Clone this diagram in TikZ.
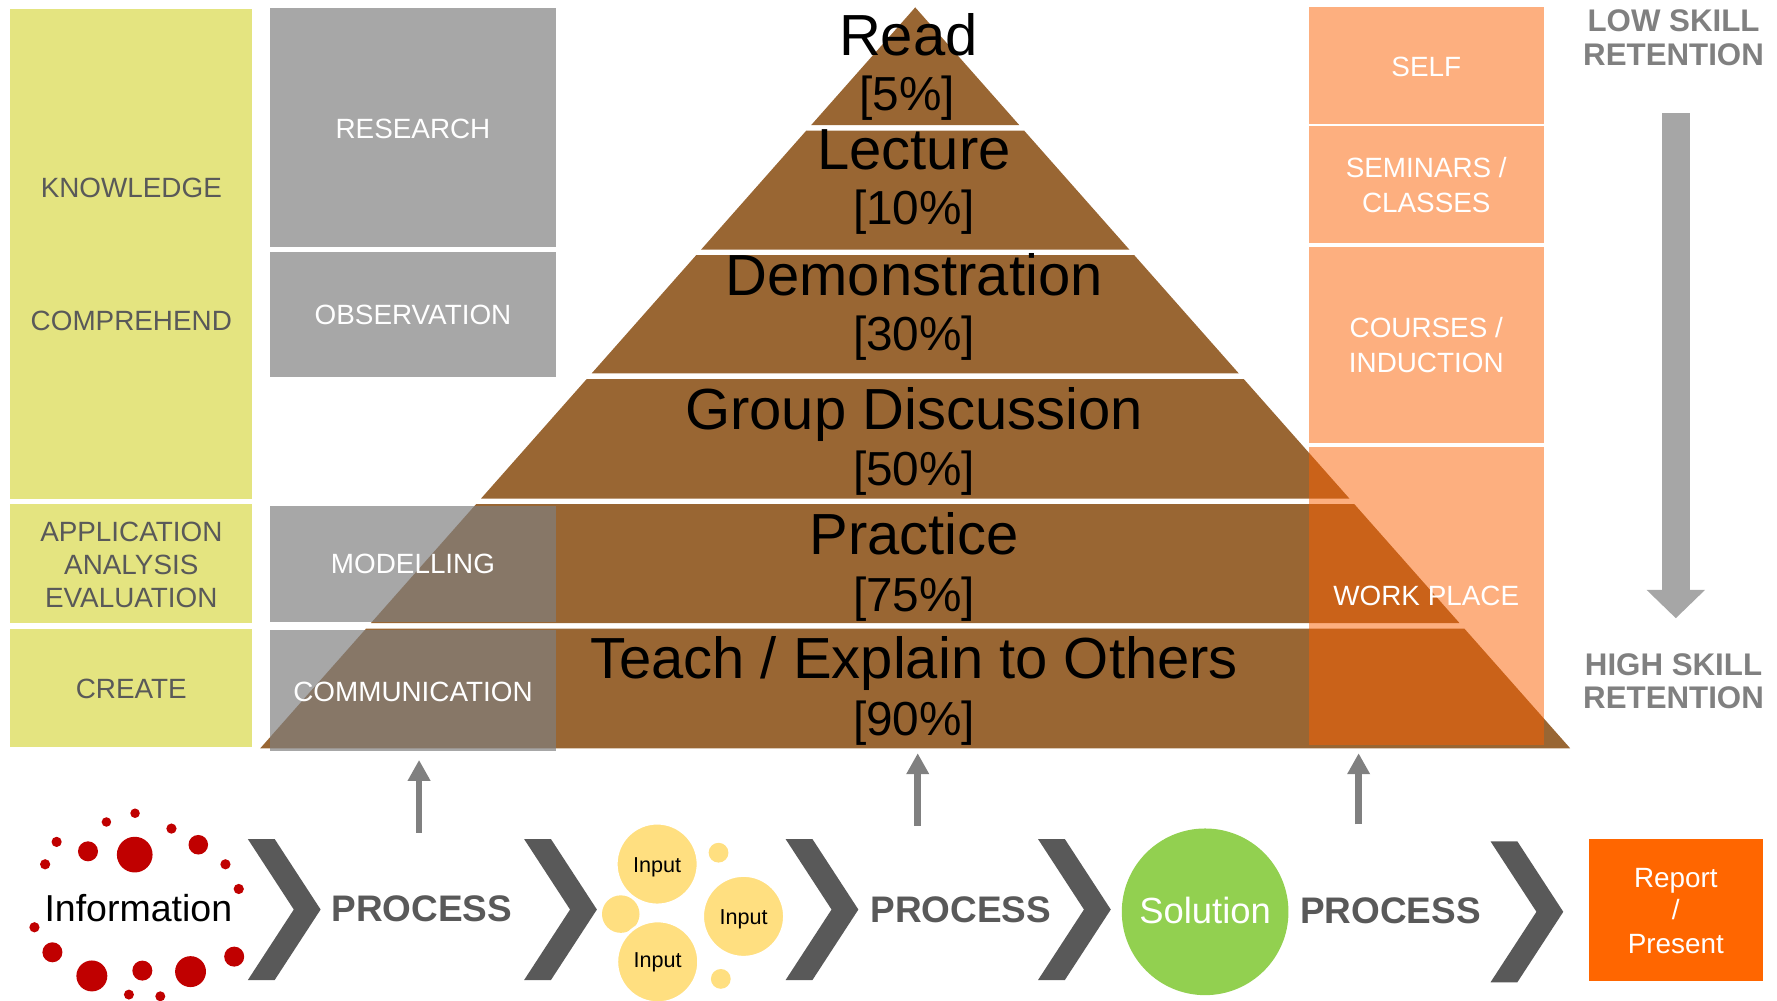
\documentclass[tikz,border=0pt]{standalone}
\usepackage{fontspec}
\setmainfont{Liberation Sans}
\usetikzlibrary{arrows.meta}
\newcommand\myfs[1]{\fontsize{#1}{#1}\selectfont}
\definecolor{ylw}{RGB}{228,228,128}
\definecolor{dgray}{RGB}{89,89,89}
\definecolor{pyrbrown}{RGB}{153,102,51}
\definecolor{boxgray}{RGB}{127,127,127}
\definecolor{orng}{RGB}{251,96,0}
\definecolor{repcol}{RGB}{255,102,0}
\definecolor{lgray}{RGB}{166,166,166}
\definecolor{mgray}{RGB}{128,128,128}
\definecolor{redd}{RGB}{192,0,0}
\definecolor{inputy}{RGB}{255,223,128}
\definecolor{solg}{RGB}{146,208,80}
\begin{document}
\begin{tikzpicture}[x=1pt,y=-1pt,
  boxbase/.style={rectangle, inner sep=0pt, outer sep=0pt, draw=none},
  ybox/.style={boxbase, fill=ylw},
  gbox/.style={boxbase, fill=boxgray, fill opacity=0.69},
  obox/.style={boxbase, fill=orng, fill opacity=0.5},
  lbl/.style={anchor=base, inner sep=0pt, outer sep=0pt},
  ytxt/.style={lbl, text=dgray, font=\myfs{24.5}},
  wtxt/.style={lbl, text=white, font=\myfs{24.5}},
  rettxt/.style={lbl, text=mgray, font=\bfseries\myfs{27.5}},
  ptitle/.style={lbl, text=black, font=\myfs{51}},
  ppct/.style={lbl, text=black, font=\myfs{42}},
  proctxt/.style={lbl, text=dgray, font=\bfseries\myfs{32.5}},
  inputc/.style={circle, fill=inputy, draw=white, line width=2.5pt, inner sep=0pt},
  uparrow/.style={draw=mgray, line width=6pt, -{Triangle[width=19pt,length=18.5pt]}},
  chevron/.pic={\fill[dgray] (0,0) -- (23.6,0) -- (64,62) -- (23.6,124) -- (0,124) -- (40.4,62) -- cycle;}
]
\path[use as bounding box] (0,0) rectangle (1563,880.4);

% pyramid
\foreach \t/\b in {6.5/110, 115/219.5, 224.5/328.5, 333.5/438.5, 443.5/548, 553/658.2}{
  \pgfmathsetmacro\ht{0.884*(\t-6.5)}
  \pgfmathsetmacro\hb{0.884*(\b-6.5)}
  \fill[pyrbrown] ({805-\ht},\t) -- ({805+\ht},\t) -- ({805+\hb},\b) -- ({805-\hb},\b) -- cycle;
}

% yellow column
\node[ybox, minimum width=213pt, minimum height=431pt] (yk) at (115.5,223.5) {};
\node[ybox, minimum width=213pt, minimum height=105pt] (ya) at (115.5,495.5) {};
\node[ybox, minimum width=213pt, minimum height=104pt] (yc) at (115.5,605) {};

% gray column
\node[gbox, minimum width=251.5pt, minimum height=210pt] (gr) at (363.25,112) {};
\node[gbox, minimum width=251.5pt, minimum height=110pt] (go) at (363.25,277) {};
\node[gbox, minimum width=251.5pt, minimum height=101.7pt] (gm) at (363.25,495.85) {};
\node[gbox, minimum width=251.5pt, minimum height=106.2pt] (gc) at (363.25,607.1) {};

% orange column
\node[obox, minimum width=207pt, minimum height=102.6pt] (os) at (1254.5,57.5) {};
\node[obox, minimum width=207pt, minimum height=102.6pt] (osem) at (1254.5,162.1) {};
\node[obox, minimum width=207pt, minimum height=172.1pt] (oc) at (1254.5,303.25) {};
\node[obox, minimum width=207pt, minimum height=262.1pt] (ow) at (1254.5,524.15) {};

% left texts
\node[ytxt] (tknow) at (115.5,173.5) {KNOWLEDGE};
\node[ytxt] (tcomp) at (115.5,290.7) {COMPREHEND};
\node[ytxt] (tapp) at (115.5,476) {APPLICATION};
\node[ytxt] (tana) at (115.5,505.6) {ANALYSIS};
\node[ytxt] (teva) at (115.5,534.7) {EVALUATION};
\node[ytxt] (tcre) at (115.5,614.7) {CREATE};

% gray texts
\node[wtxt] (tres) at (363.25,121.6) {RESEARCH};
\node[wtxt] (tobs) at (363.25,285.5) {OBSERVATION};
\node[wtxt] (tmod) at (363.25,504.8) {MODELLING};
\node[wtxt] (tcom) at (363.25,616.8) {COMMUNICATION};

% orange texts
\node[wtxt] (tself) at (1254.5,67.3) {SELF};
\node[wtxt] (tsem) at (1254.5,156.5) {SEMINARS /};
\node[wtxt] (tcla) at (1254.5,186.7) {CLASSES};
\node[wtxt] (tcou) at (1254.5,297.2) {COURSES /};
\node[wtxt] (tind) at (1254.5,327.4) {INDUCTION};
\node[wtxt] (twork) at (1254.5,532.5) {WORK PLACE};

% pyramid texts
\node[ptitle] (pread) at (799,48.9) {Read};
\node[ppct] (p5) at (798,97.2) {[5\%]};
\node[ptitle] (plec) at (804,149) {Lecture};
\node[ppct] (p10) at (804,197.5) {[10\%]};
\node[ptitle] (pdem) at (804,260) {Demonstration};
\node[ppct] (p30) at (804,308.3) {[30\%]};
\node[ptitle] (pgrp) at (804,378.1) {Group Discussion};
\node[ppct] (p50) at (804,427.1) {[50\%]};
\node[ptitle] (ppra) at (804,487.7) {Practice};
\node[ppct] (p75) at (804,537.6) {[75\%]};
\node[ptitle] (ptea) at (804,597.1) {Teach / Explain to Others};
\node[ppct] (p90) at (804,646.9) {[90\%]};

% retention labels and arrow
\node[rettxt] (tlow) at (1472,27.5) {LOW SKILL};
\node[rettxt] (tlowr) at (1472,57.7) {RETENTION};
\node[rettxt] (thigh) at (1472,594) {HIGH SKILL};
\node[rettxt] (thighr) at (1472,623.5) {RETENTION};
\coordinate (dtop) at (1474,99.7);
\coordinate (dtip) at (1474,543.8);
\draw[draw=lgray, line width=24.6pt, -{Triangle[width=50pt,length=25pt]}] (dtop) -- (dtip);

% up arrows
\coordinate (u1s) at (368.6,732.3); \coordinate (u1t) at (368.6,668.4);
\coordinate (u2s) at (807.2,726.5); \coordinate (u2t) at (807.2,662.5);
\coordinate (u3s) at (1195,725);    \coordinate (u3t) at (1195,662.5);
\draw[uparrow] (u1s) -- (u1t);
\draw[uparrow] (u2s) -- (u2t);
\draw[uparrow] (u3s) -- (u3t);

% information dots
\foreach \x/\y/\r in {118.8/715.3/4.2, 93.6/723/4.2, 150.8/728.8/4.5, 49.8/740.5/4.5,
  77.4/748.8/8.8, 118.5/751.7/15.7, 174.4/743/8.6, 39.7/760.2/4.5, 198.3/760.2/4.5,
  210/781.9/4.5, 30.3/815.6/4.5, 46.1/837.6/8.8, 206/841.4/8.8, 80.8/858.4/13.6,
  125.2/853.7/8.8, 167.6/854.6/13.6, 113.4/874.8/4.4, 141/876.3/4.4}{
  \fill[redd] (\x,\y) circle[radius=\r];
}
\node[lbl, text=black, font=\myfs{33}] (info) at (121.7,810.2) {Information};

% chevrons
\pic at (218,738) {chevron};
\pic at (461,738) {chevron};
\pic at (691,738) {chevron};
\pic at (913,738) {chevron};
\pic at (1311,740) {chevron};

% process texts
\node[proctxt] (pr1) at (371,810.2) {PROCESS};
\node[proctxt] (pr2) at (845,811.1) {PROCESS};
\node[proctxt] (pr3) at (1223,812) {PROCESS};

% input circles
\node[circle, fill=inputy, inner sep=0pt, minimum size=33pt] (ins1) at (546,804) {};
\node[circle, fill=inputy, inner sep=0pt, minimum size=17.4pt] (ins2) at (632,750) {};
\node[circle, fill=inputy, inner sep=0pt, minimum size=17.4pt] (ins3) at (634,861) {};
\node[inputc, minimum size=72pt] (in1) at (578,760) {};
\node[inputc, minimum size=72pt] (in2) at (654,806) {};
\node[inputc, minimum size=72pt] (in3) at (578.5,846) {};
\node[lbl, font=\myfs{19}] (tin1) at (578,767) {Input};
\node[lbl, font=\myfs{19}] (tin2) at (654,813.4) {Input};
\node[lbl, font=\myfs{19}] (tin3) at (578.5,851.4) {Input};

% solution
\node[circle, fill=solg, inner sep=0pt, minimum size=146.6pt] (sol) at (1060,802) {};
\node[lbl, text=white, font=\myfs{32}] (tsol) at (1060,812.5) {Solution};

% report
\node[boxbase, fill=repcol, minimum width=153pt, minimum height=124.5pt] (rep) at (1474,800.25) {};
\node[wtxt] (trep1) at (1474,780.3) {Report};
\node[wtxt] (trep2) at (1474,809) {/};
\node[wtxt] (trep3) at (1474,839) {Present};
\end{tikzpicture}
\end{document}
